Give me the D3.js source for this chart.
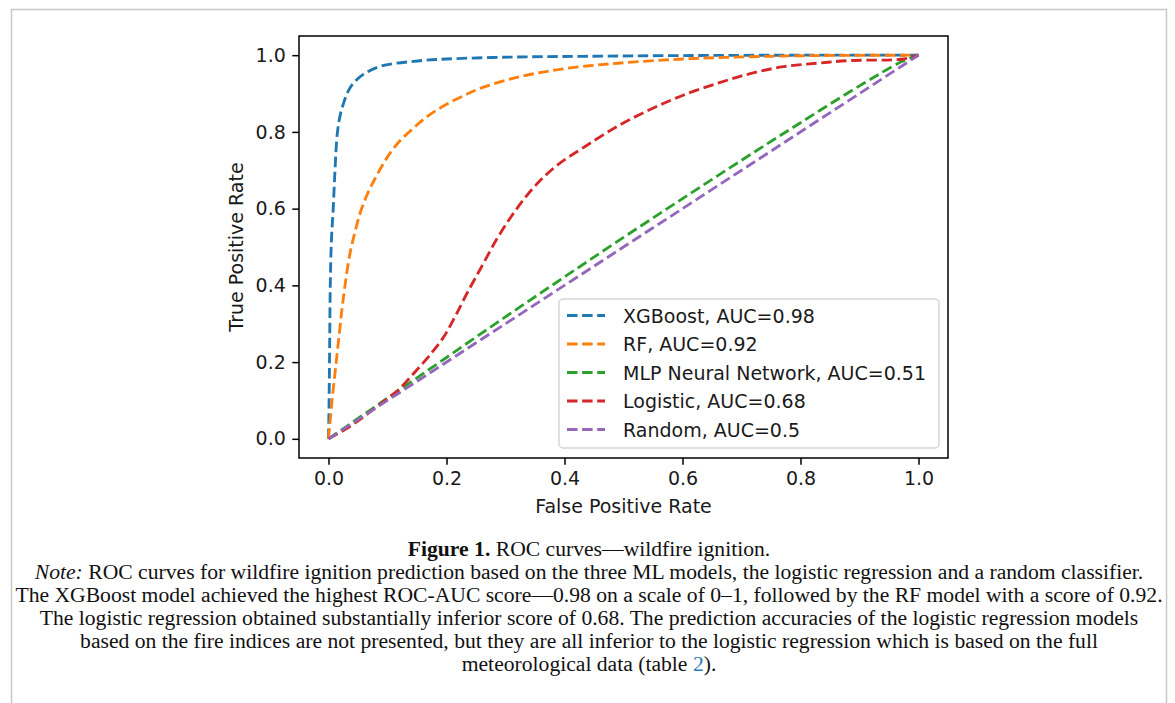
<!DOCTYPE html>
<html>
<head>
<meta charset="utf-8">
<script src="https://cdn.jsdelivr.net/npm/d3@7"></script>
<style>
  html, body { margin: 0; padding: 0; background: #fff; }
  svg { display: block; }
</style>
</head>
<body>
<svg id="fig" width="1175" height="703"></svg>
<script>
// ROC curve points (false positive rate, true positive rate) per model
const xgboostFpr = [0, 0.001, 0.002, 0.003, 0.005, 0.008, 0.011, 0.015, 0.020, 0.025, 0.033, 0.042, 0.059, 0.088, 0.144, 0.200, 0.310, 0.430, 0.600, 0.800, 1.0];
const xgboostTpr = [0, 0.100, 0.250, 0.400, 0.520, 0.600, 0.700, 0.797, 0.845, 0.872, 0.905, 0.927, 0.950, 0.971, 0.984, 0.990, 0.995, 0.997, 0.999, 1.0, 1.0];

const rfFpr = [0, 0.006, 0.012, 0.018, 0.023, 0.028, 0.036, 0.045, 0.055, 0.068, 0.083, 0.100, 0.120, 0.144, 0.170, 0.200, 0.230, 0.258, 0.314, 0.371, 0.427, 0.490, 0.600, 0.715, 0.830, 1.0];
const rfTpr = [0, 0.100, 0.185, 0.270, 0.340, 0.400, 0.480, 0.540, 0.595, 0.645, 0.690, 0.735, 0.775, 0.810, 0.843, 0.872, 0.895, 0.914, 0.940, 0.958, 0.970, 0.979, 0.990, 0.996, 0.999, 1.0];

const mlpFpr = [0, 0.10, 0.20, 0.30, 0.40, 0.50, 0.60, 0.70, 0.80, 0.90, 0.97, 1.0];
const mlpTpr = [0, 0.106, 0.212, 0.318, 0.422, 0.525, 0.626, 0.726, 0.824, 0.920, 0.982, 1.0];

const logisticFpr = [0, 0.030, 0.060, 0.090, 0.120, 0.147, 0.170, 0.195, 0.215, 0.235, 0.260, 0.285, 0.310, 0.335, 0.360, 0.390, 0.433, 0.490, 0.546, 0.600, 0.660, 0.715, 0.771, 0.828, 0.885, 0.975, 1.0];
const logisticTpr = [0, 0.026, 0.058, 0.093, 0.130, 0.175, 0.215, 0.265, 0.320, 0.380, 0.450, 0.520, 0.580, 0.632, 0.675, 0.716, 0.760, 0.815, 0.859, 0.895, 0.927, 0.952, 0.970, 0.979, 0.986, 0.990, 1.0];

const randomFpr = [0, 1];
const randomTpr = [0, 1];

const seriesNames = ["XGBoost, AUC=0.98", "RF, AUC=0.92", "MLP Neural Network, AUC=0.51", "Logistic, AUC=0.68", "Random, AUC=0.5"];
const seriesColors = ["#1f77b4", "#ff7f0e", "#2ca02c", "#d62728", "#9467bd"];
const seriesFpr = [xgboostFpr, rfFpr, mlpFpr, logisticFpr, randomFpr];
const seriesTpr = [xgboostTpr, rfTpr, mlpTpr, logisticTpr, randomTpr];

const tickValues = [0, 0.2, 0.4, 0.6, 0.8, 1.0];
const xLabel = "False Positive Rate";
const yLabel = "True Positive Rate";

// Caption lines, each a list of styled runs
const captionLines = [
  [{t: "Figure 1.", w: "bold"}, {t: " ROC curves\u2014wildfire ignition."}],
  [{t: "Note:", s: "italic"}, {t: " ROC curves for wildfire ignition prediction based on the three ML models, the logistic regression and a random classifier."}],
  [{t: "The XGBoost model achieved the highest ROC-AUC score\u20140.98 on a scale of 0\u20131, followed by the RF model with a score of 0.92."}],
  [{t: "The logistic regression obtained substantially inferior score of 0.68. The prediction accuracies of the logistic regression models"}],
  [{t: "based on the fire indices are not presented, but they are all inferior to the logistic regression which is based on the full"}],
  [{t: "meteorological data (table "}, {t: "2", c: "#2b7bb9"}, {t: ")."}]
];

const svg = d3.select("#fig");

// Page frame
svg.append("rect")
  .attr("x", 11.5).attr("y", 9.5)
  .attr("width", 1155).attr("height", 720)
  .attr("fill", "none").attr("stroke", "#c8c8c8").attr("stroke-width", 1.5);

// Axes area
const plot = {left: 299, right: 948, top: 36, bottom: 458};
const x = d3.scaleLinear().domain([-0.05, 1.05]).range([plot.left, plot.right]);
const y = d3.scaleLinear().domain([-0.05, 1.05]).range([plot.bottom, plot.top]);

const fmt = d3.format(".1f");
const axisFont = "'DejaVu Sans', sans-serif";

const xAxis = svg.append("g")
  .attr("transform", `translate(0,${plot.bottom})`)
  .call(d3.axisBottom(x).tickValues(tickValues).tickFormat(fmt).tickSize(6.7).tickPadding(6.5).tickSizeOuter(0));
const yAxis = svg.append("g")
  .attr("transform", `translate(${plot.left},0)`)
  .call(d3.axisLeft(y).tickValues(tickValues).tickFormat(fmt).tickSize(6.7).tickPadding(6.5).tickSizeOuter(0));

[xAxis, yAxis].forEach(g => {
  g.select(".domain").remove();
  g.selectAll(".tick line").attr("stroke", "#000").attr("stroke-width", 1.5);
  g.selectAll(".tick text").attr("fill", "#1a1a1a").style("font-family", axisFont).style("font-size", "19px");
});

// Curves
const line = d3.line().x(d => x(d[0])).y(d => y(d[1])).curve(d3.curveCatmullRom.alpha(0.5));
svg.append("clipPath").attr("id", "plotclip").append("rect")
  .attr("x", plot.left).attr("y", plot.top)
  .attr("width", plot.right - plot.left).attr("height", plot.bottom - plot.top);

const curves = svg.append("g").attr("clip-path", "url(#plotclip)");
seriesNames.forEach((name, i) => {
  const pts = d3.zip(seriesFpr[i], seriesTpr[i]);
  curves.append("path")
    .datum(pts)
    .attr("d", line)
    .attr("fill", "none")
    .attr("stroke", seriesColors[i])
    .attr("stroke-width", 2.85)
    .attr("stroke-dasharray", "10.5,4.6");
});

// Spines
svg.append("rect")
  .attr("x", plot.left).attr("y", plot.top)
  .attr("width", plot.right - plot.left).attr("height", plot.bottom - plot.top)
  .attr("fill", "none").attr("stroke", "#000").attr("stroke-width", 1.5);

// Axis labels
svg.append("text")
  .attr("x", (plot.left + plot.right) / 2).attr("y", 513)
  .attr("text-anchor", "middle")
  .style("font-family", axisFont).style("font-size", "19px").attr("fill", "#1a1a1a")
  .text(xLabel);
svg.append("text")
  .attr("transform", `translate(243,${(plot.top + plot.bottom) / 2}) rotate(-90)`)
  .attr("text-anchor", "middle")
  .style("font-family", axisFont).style("font-size", "19px").attr("fill", "#1a1a1a")
  .text(yLabel);

// Legend
const legend = svg.append("g");
legend.append("rect")
  .attr("x", 559).attr("y", 299)
  .attr("width", 380).attr("height", 149)
  .attr("rx", 4).attr("ry", 4)
  .attr("fill", "#fff").attr("fill-opacity", 0.8)
  .attr("stroke", "#d6d6d6").attr("stroke-width", 1.5);
seriesNames.forEach((name, i) => {
  const cy = 315.5 + i * 28.5;
  legend.append("line")
    .attr("x1", 567).attr("x2", 605).attr("y1", cy).attr("y2", cy)
    .attr("stroke", seriesColors[i]).attr("stroke-width", 2.85)
    .attr("stroke-dasharray", "10.5,4.6");
  legend.append("text")
    .attr("x", 623).attr("y", cy + 7)
    .style("font-family", axisFont).style("font-size", "19px").attr("fill", "#1a1a1a")
    .text(name);
});

// Caption
const cap = svg.append("g");
const capTexts = captionLines.map((runs, i) => {
  const t = cap.append("text")
    .attr("x", 589).attr("y", 556 + i * 23)
    .attr("text-anchor", "middle")
    .style("font-family", "'Liberation Serif', 'Times New Roman', serif")
    .style("font-size", "20px").attr("fill", "#111");
  runs.forEach(r => {
    t.append("tspan")
      .style("font-weight", r.w || "normal")
      .style("font-style", r.s || "normal")
      .attr("fill", r.c || "#111")
      .text(r.t);
  });
  return t;
});
// size the caption so its widest line spans the page frame
const widest = capTexts[2].node().getComputedTextLength();
const capSize = 20 * 1148 / widest;
capTexts.forEach(t => t.style("font-size", capSize + "px"));
</script>
</body>
</html>
